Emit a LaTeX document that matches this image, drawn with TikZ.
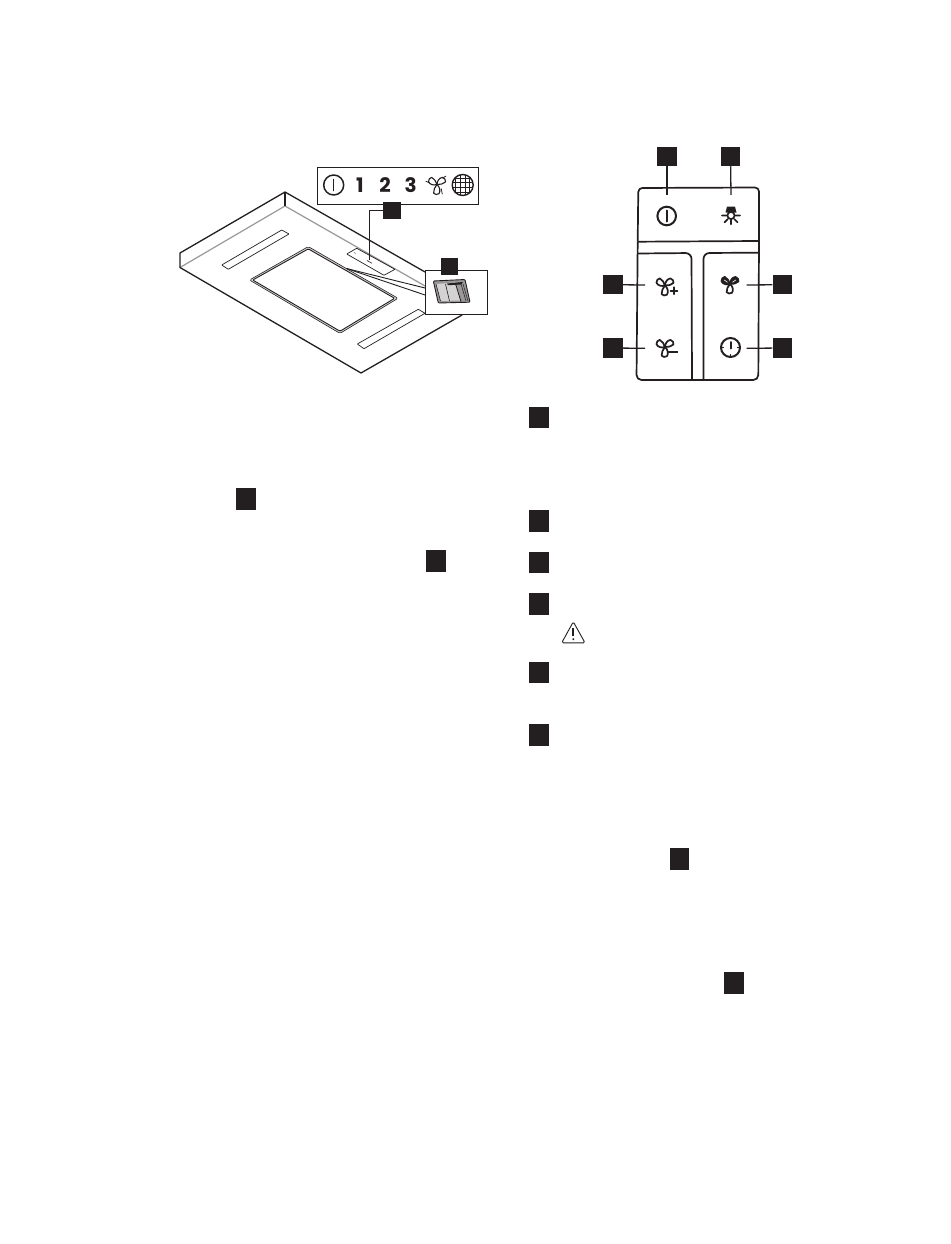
\documentclass[tikz,border=0pt]{standalone}
\usepackage{fontspec}
\setmainfont{Poppins}
\definecolor{ink}{HTML}{231F20}
\definecolor{midgray}{HTML}{9A9899}
\definecolor{lightgray}{HTML}{D4D3D3}
\newcommand*\myBladeWidth{1.7pt}
\tikzset{
  badge/.style={rectangle,fill=ink,draw=none,inner sep=0pt,minimum width=19.5pt,minimum height=19.5pt},
  tbadge/.style={rectangle,fill=ink,draw=none,inner sep=0pt,minimum width=19.7pt,minimum height=21.7pt},
  outline/.style={draw=ink,line width=1.3pt,line join=round},
  thinline/.style={draw=ink,line width=.7pt,line join=round},
  grayline/.style={draw=midgray,line width=1.2pt,line join=round},
  panelline/.style={draw=ink,line width=1.7pt,line join=round},
  leader/.style={draw=ink,line width=1.3pt},
  iconline/.style={draw=ink,line width=1.2pt,line join=round,line cap=round},
  digit/.style={font=\fontsize{20}{20}\selectfont\bfseries,text=ink,inner sep=0pt},
  fanblade/.pic={
    \path[draw=ink,line join=round,fill=white,line width=\myBladeWidth] (0,0)
      .. controls (-3,-2.2) and (-4.2,-6) .. (-2.6,-8.6)
      .. controls (-1,-10) and (1.6,-9.8) .. (2.8,-8.4)
      .. controls (3.4,-5.6) and (1.8,-2.4) .. (0,0) -- cycle;
  },
  fandark/.pic={
    \path[draw=ink,line join=round,fill=ink,line width=\myBladeWidth] (0,0)
      .. controls (-3,-2.2) and (-4.2,-6) .. (-2.6,-8.6)
      .. controls (-1,-10) and (1.6,-9.8) .. (2.8,-8.4)
      .. controls (3.4,-5.6) and (1.8,-2.4) .. (0,0) -- cycle;
    \draw[white,line width=.6pt] (0,-3) -- (0,-7);
  },
  fanicon/.pic={
    \pic[rotate=-55] {fanblade};
    \pic[rotate=55] {fanblade};
    \pic[rotate=176,yscale=1.05] {fanblade};
  }
}
\begin{document}
\begin{tikzpicture}[x=1pt,y=-1pt]
\useasboundingbox[fill=white] (0,0) rectangle (950,1244);

% ---------- hood ----------
\coordinate (hT) at (285,192);
\coordinate (hTi) at (285,206);
\coordinate (hL) at (180,253);
\coordinate (hLb) at (180,267.5);
\coordinate (hB) at (361,373);
\coordinate (hR) at (462,315);
\coordinate (hRt) at (425,272);
\coordinate (hRi) at (425,286);
\draw[grayline] (hLb) -- (hTi) -- (hRi);
\draw[outline] (hRt) -- (hT) -- (hL) -- (hLb) -- (hB) -- (hR);
\draw[outline] (hT) -- (hTi);
% slots
\draw[thinline,rounded corners=.5pt] (221.7,265) -- (281.7,230) -- (289,234) -- (228.3,269.3) -- cycle;
\draw[thinline,rounded corners=.5pt] (357.3,344) -- (418.3,309.3) -- (425,313.3) -- (364,348.7) -- cycle;
% hob panel
\draw[draw=ink,fill=lightgray,line width=.6pt,line join=round,rounded corners=1.5pt] (249.5,280) -- (308.3,246.6) -- (398,298.3) -- (340,333.4) -- cycle;
\draw[draw=ink,fill=white,line width=.9pt,line join=round,rounded corners=1pt] (252.8,280) -- (308.3,248.9) -- (394.6,298.3) -- (340,331.2) -- cycle;
% control panel on the hood
\draw[thinline,rounded corners=.5pt] (346.7,254) -- (356.7,248.3) -- (395,269.3) -- (384,275.3) -- cycle;
\draw[draw=ink,line width=.4pt] (354,252.5) -- (355.5,253.5);
\draw[draw=ink,line width=.6pt] (367,260.5) -- (372,263.3);
% callout lines
\coordinate (cA) at (346.5,268.5);
\draw[draw=ink,line width=.9pt] (cA) -- (425,288);
\draw[draw=ink,line width=.9pt] (cA) -- (425,295);

% symbol strip
\node[draw=ink,line width=.8pt,fill=white,minimum width=161pt,minimum height=36.7pt,inner sep=0pt] (strip) at (397.8,185.7) {};
\node[digit] (d1) at (360,185.3) {1};
\node[digit] (d2) at (385,185.3) {2};
\node[digit] (d3) at (410.7,185.3) {3};
\draw[iconline,line width=1.5pt] (333.7,185) circle (10);
\draw[iconline,line width=1.5pt] (333.7,179.5) -- (333.7,190.5);
\begin{scope}[shift={(437,184.5)},scale=1.05]
  \renewcommand*\myBladeWidth{1.1pt}
  \pic {fanicon};
  \draw[iconline,line width=.8pt] (-10.5,-3) -- (-7.5,-1.8) (8.5,-8) -- (5.5,-6.2) (4,4) -- (5,9);
\end{scope}
\begin{scope}[shift={(462.7,185)}]
  \clip (0,0) circle (10.5);
  \foreach \v in {-7,-2.4,2.4,7} {
    \draw[draw=ink,line width=.8pt] (\v,-11) -- (\v,11);
    \draw[draw=ink,line width=.8pt] (-11,\v) -- (11,\v);
  }
\end{scope}
\draw[iconline,line width=1.4pt] (462.7,185) circle (10.5);

% switch inset
\node[draw=ink,line width=.8pt,fill=white,minimum width=62.7pt,minimum height=43.3pt,inner sep=0pt] (swbox) at (456.3,292.3) {};
\draw[draw=ink,fill=midgray,line width=.9pt,rounded corners=1pt] (433.3,281) -- (465,279.5) -- (470,302.2) -- (438.3,303) -- cycle;
\fill[lightgray] (436,284) -- (456,282.5) -- (461,300.5) -- (440.5,301) -- cycle;
\fill[ink] (447,283.5) -- (463,282) -- (461,284.5) -- (448,285.2) -- cycle;
\draw[draw=ink,line width=.6pt] (436,284) -- (440.5,301);
\draw[draw=ink,line width=.6pt] (445.5,284) -- (449.5,301);
\draw[draw=ink,line width=.9pt] (455.5,283.5) -- (461,301.5);
\draw[draw=ink,line width=.5pt] (461,284) -- (466,301);
\draw[draw=ink,line width=.5pt] (463,284) -- (468,301);

% badges in the hood picture
\node[badge,minimum width=17.4pt,minimum height=17pt] (bA) at (392,210) {};
\node[badge,minimum width=17.4pt,minimum height=17pt] (bB) at (449.7,266.7) {};
\coordinate (aE) at (369.3,260);
\draw[draw=ink,line width=1pt] (bA.west) -| (aE);

% ---------- control panel ----------
\draw[panelline,rounded corners=4pt] (637.7,241.7) -- (638.3,188) -- (759,187.5) -- (759,241.7);
\draw[panelline] (637.7,241.7) -- (759,241);
\draw[panelline,rounded corners=5pt] (759,241) -- (758.3,380) -- (636.5,380) -- (637.7,241.7);
\draw[panelline,rounded corners=6pt] (638,253.5) -- (691.5,253) -- (692,380);
\draw[panelline,rounded corners=6pt] (703.5,380) -- (703.5,253) -- (758.5,252.7);

% badges
\node[badge] (b1) at (667,156.3) {};
\node[badge] (b2) at (730.5,156.3) {};
\node[badge] (b3) at (613,284.7) {};
\node[badge] (b4) at (613,348) {};
\node[badge] (b5) at (782.3,284.7) {};
\node[badge] (b6) at (782.3,348) {};
\coordinate (e1) at (667,195);
\coordinate (e2) at (731,195);
\coordinate (e3) at (645,285);
\coordinate (e4) at (645,348.3);
\coordinate (e5) at (746.7,285);
\coordinate (e6) at (746.7,348.3);
\draw[leader] (b1) -- (e1);
\draw[leader] (b2) -- (e2);
\draw[leader] (b3) -- (e3);
\draw[leader] (b4) -- (e4);
\draw[leader] (b5) -- (e5);
\draw[leader] (b6) -- (e6);

% icons
\draw[iconline,line width=2pt] (666.7,216) circle (9.3);
\draw[iconline,line width=2pt] (666.7,210.5) -- (666.7,221.5);
% lamp
\fill[ink] (727,206.7) -- (735,206.7) -- (736.5,212.5) -- (725.5,212.5) -- cycle;
\draw[iconline,line width=1.7pt] (731,215.5) circle (3.6);
\draw[iconline,line width=1.7pt] (722,215.5) -- (726.5,215.5) (735.5,215.5) -- (740,215.5)
  (724.5,222.3) -- (727.8,219) (737.5,222.3) -- (734.2,219) (731,220) -- (731,224.3);
% fans
\begin{scope}[shift={(665,285.5)}]
  \pic {fanicon};
\end{scope}
\draw[iconline,line width=1.7pt] (670.5,290.7) -- (677.5,290.7) (674,287.2) -- (674,294.2);
\begin{scope}[shift={(665,347)}]
  \pic {fanicon};
\end{scope}
\draw[draw=ink,line width=1.7pt] (668,352.3) -- (677.7,352.3);
\begin{scope}[shift={(730,284)},rotate=15]
  \pic[rotate=-55] {fandark};
  \pic[rotate=55] {fandark};
  \pic[rotate=176] {fanblade};
\end{scope}
% timer
\draw[iconline,line width=2pt] (730.5,347.5) circle (9.5);
\draw[iconline,line width=2pt] (730.5,342) -- (730.5,348.5);
\draw[draw=ink,line width=1.7pt] (721,347.5) -- (724,347.5) (737,347.5) -- (740,347.5) (730.5,354) -- (730.5,357);

% ---------- text badges ----------
\node[tbadge] (t1) at (538.7,417.5) {};
\node[tbadge] (t2) at (538.7,520.8) {};
\node[tbadge] (t3) at (538.7,562.5) {};
\node[tbadge] (t4) at (538.7,604) {};
\node[tbadge] (t5) at (538.7,672.5) {};
\node[tbadge] (t6) at (538.7,735) {};
\node[tbadge] (t7) at (245.8,499.2) {};
\node[tbadge] (t8) at (436.3,561.3) {};
\node[tbadge] (t9) at (679.5,859.2) {};
\node[tbadge] (t10) at (734,983.3) {};
% warning sign
\draw[draw=ink,line width=.9pt,line join=round,rounded corners=1.5pt] (573.3,621.8) -- (585,642.8) -- (561.7,642.8) -- cycle;
\draw[draw=ink,line width=1.7pt] (573.3,628) -- (573.3,636);
\fill[ink] (573.3,639.2) circle (1.1);
\end{tikzpicture}
\end{document}
